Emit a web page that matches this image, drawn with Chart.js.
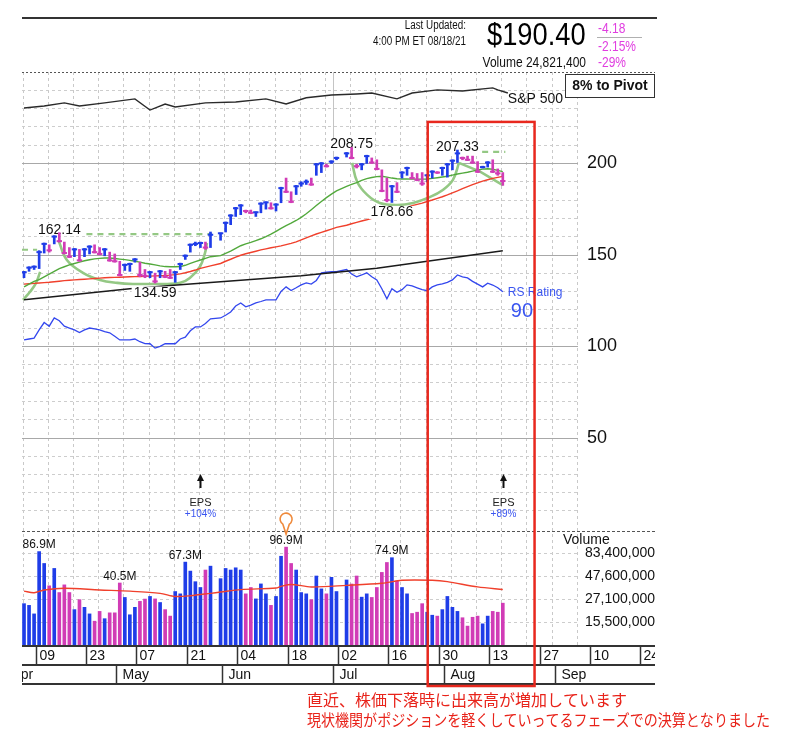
<!DOCTYPE html>
<html lang="ja">
<head>
<meta charset="utf-8">
<title>Daily chart</title>
<script src="https://cdn.jsdelivr.net/npm/chart.js@4.4.1/dist/chart.umd.min.js"></script>
<style>
html,body{margin:0;padding:0;background:#fff;}
canvas{display:block;}
</style>
</head>
<body>
<canvas id="chart" width="800" height="744"></canvas>
<script>
// ================= DATA (one slot per weekday, starting Wed 2021-04-07; null = market holiday) =================
const prevClose0 = 138.0;
const high = [141,143.5,144,152.3,156.5,155.5,160.5,162.14,157,154,
  153.5,153,153.5,155,155.5,154,153.5,151.5,150.5,146.5,
  145,145.5,148,146,142,141,140,141.5,141,142,
  141,145.5,150,156,157,157,157,162.5,null,162,
  168,172,176,177.5,174.5,174.5,173.5,178.5,179,178.5,
  178,187,192,184.5,188,190,191,192,200,200.5,
  199.5,201.5,203.5,null,206,208.75,199.5,200,204.5,203,
  202,196.5,192,188,189.5,195.5,198,195,194.5,195,
  194,196,195.5,198,200,202,207.33,203.5,204,204,
  201,198.5,201,202,197,195];
const low = [137.5,141,142,142.5,151,151.5,156,157,150.5,148.5,
  149,146.5,149,150.5,151,150,149.5,146.5,146,138.5,
  141.5,141,146,138,137.5,137.5,134.59,137.5,137.5,137,
  135,142,147.5,151.5,155,154,153,154,null,158,
  162.5,166.5,171,172,173,172.5,171,173,175,175,
  174,178.5,184,178.5,183,187.5,188.5,188,193.5,195,
  198,200,202,null,203.5,202.5,197.5,196.5,200,200,
  196.5,184.5,179,178.66,184,192,193.5,191.5,190.5,188,
  190,192,194.5,193.5,192.5,196.5,200.5,202,201.5,200,
  195,197.5,198,195,193.5,188];
const close = [140.5,143,143.5,151.5,156,152.5,160,157.5,151,149,
  153,147,153,154.5,151.5,150.5,153,147,146.5,139,
  144.5,145,147.5,139,138.5,140.5,135.5,141,138,137.5,
  140.5,145,149.5,155.5,156,156.5,154,161,null,161.8,
  167.5,171.5,175.5,177,174,173,173.3,178,178.7,175.5,
  177.5,186.5,184.5,179,187.5,189,190,188.5,199.5,200,
  198.5,201,203,null,205.5,203,198.5,199.5,204,200.5,
  197,185,180,187.5,184.5,195,197.5,192,191,189,
  193.5,195.5,195,197.5,199.5,201.5,205.5,203,202,200.5,
  195.5,198,200.5,195.5,194.58,190.40];
const volumeM = [24.5,23.5,19.1,86.9,65.1,37.8,57.7,32.1,38.7,32.1,
  21.2,27,22.4,19.1,16,20.3,17,19.6,19.6,40.5,
  28.5,18.7,22.4,25.9,27.4,29.2,27.5,25.2,21.2,18.1,
  32.9,31.1,67.3,54.1,41.8,36.3,55.5,61,null,45,
  57.7,55.5,58.6,55.5,31.1,36.3,27.5,39.6,31.1,23.5,
  29.2,77.6,96.9,65.1,55.5,32.1,31.1,27,48,35.1,
  31.1,46.5,32.9,null,43.6,39.5,48,28.7,31.1,28.5,
  36.3,52.4,66.7,74.9,42.5,36.3,31.1,19.3,19.9,24.5,
  19.9,18.5,18.1,21.2,29.2,22.4,20.3,17.4,14.2,17.6,
  18.1,15,18.1,20.3,19.9,24.8];
const maShort = [132.5,134,135.5,136.5,138,139.5,141,142.5,143.5,144.5,
  145.3,146,146.8,147.3,147.8,148.1,148.3,148.3,148,147.7,
  147.4,147,146.5,146,145.4,145,144.5,144,143.6,143.5,
  143.5,143.6,144.3,145.3,146.3,147.2,148.1,149,null,149.6,
  150.8,152,153.5,155,156,156.8,157.8,158.8,160,161.3,
  162.8,164.5,166,167.3,168.8,170.5,172.5,174.7,177,179.2,
  181.3,183.2,185,null,187.5,188.5,189.5,190.7,191.7,192.3,
  192.8,193,192.5,192,191.6,191.5,191.5,191.4,191.4,191.4,
  191.5,191.8,192.2,192.6,193,193.6,194.2,194.7,195.2,195.8,
  196.4,196.9,197.1,196.8,196.2,195.5];
const maMid = [134,134.2,134.4,134.6,134.8,135,135.3,135.6,135.9,136.1,
  136.3,136.5,136.7,136.9,137.1,137.3,137.5,137.6,137.7,137.8,
  137.9,138,138.1,138.2,138.3,138.4,138.5,138.6,138.7,138.9,
  139.2,139.6,140.2,140.9,141.7,142.6,143.3,144,null,145.3,
  146.5,147.6,148.8,149.8,150.6,151.3,152,152.7,153.3,153.9,
  154.4,154.9,155.6,156.3,157.1,158.2,159.3,160.4,161.4,162.3,
  163.2,164.1,165,null,166.2,167,167.8,168.5,169.2,170,
  170.8,171.7,172.6,173.5,174.3,175.1,176,176.9,177.6,178.3,
  179.2,180,180.9,181.8,182.8,183.9,185,186.2,187.3,188.4,
  189.4,190.3,191.1,191.8,192.4,192.9];
const rsLine = [103.5,104,104.5,109,113,111,115.5,114,111,110,
  109,107.5,109,110,109.5,109,108,107.4,105.5,103.5,
  103.5,103.5,104,102.5,101.5,101.4,99,100,101.4,101.4,
  101.4,104,105,108.5,110.6,110.6,112.5,115,null,115.5,
  117,118.8,122,123.7,121.6,122.5,123.7,124.5,125.4,125.4,
  125.4,130,132.5,130.5,132,133.6,134.7,134,136,140.2,
  140.5,140.8,140.8,null,142,139.5,138,139,140.2,138,
  136.3,131.5,126,131.5,129.5,131,133.6,133,132,131,
  130.4,132.5,133.6,134.2,135,136.3,139,138,137.4,135.5,
  134,132.5,134.5,133.5,132,129.8];
const maLongSlots = [0,21,31,55,70,95];
const maLongVals  = [125.5,131.5,133.6,138.6,142.7,152.2];
const spxSlots = [0,4,8,11,16,22,25,28,30,36,42,48,52,56,61,66,69,74,77,82,87,93,94,96];
const spxVals  = [230.3,231.4,233.1,231.4,233.1,235.3,229.2,232.5,230.9,233.1,233.6,235.3,232.5,235.9,237.4,238,238.5,235.3,238.5,240.2,239.6,241.3,240.2,238.5];
const volAvgSlots = [0,2,4,8,15,21,27,30,33,37,39,43,50,51,53,57,64,71,75,81,84,90,95];
const volAvgM     = [33.2,32,34.2,35.6,34.2,33.2,31.5,29.2,29.7,31.5,32.5,34.5,35.8,37.3,39.1,36.8,38.2,40.2,43.3,43.3,41.9,36.8,34.6];
// base-pattern overlays
const baseASlots = [-0.2,1.2,2.4,3.2];
const baseAVals  = [125.4,129.8,134.7,140.7];
const baseBSlots = [6.9,8.5,11.7,15.1,18.5,21.6,25,28.4,31,32.9,34.9,35.9,36.3];
const baseBVals  = [157.5,147.2,140.2,136.3,134.7,134.1,134.1,134.1,134.7,137.4,143.5,151,156.5];
const baseCSlots = [65.1,66.1,68.1,70.6,74,77.2,80.6,83.1,85.1,86.3];
const baseCVals  = [200.3,190,182.8,178.4,177.3,178.4,181.7,185.5,191,200.3];
const handleSlots = [86.3,90.5,95];
const handleVals  = [200.3,195.5,188.2];
const pivotLines = [[-0.4,2.6,152.8],[10.2,37.3,161.3],[90.9,95.5,206.3]];
// annotations
const highLabelSlots = [7,65,86];
const lowLabelSlots  = [26,73];
const volLabelSlots  = [3,19,32,52,73];
const pinSlot = 52;
const epsSlots  = [35,95];
const epsLabels = ['+104%','+89%'];
// axes
const priceMajor = [50,100,150,200];
const volAxisTicks = [15500000,27100000,47600000,83400000];
const tickSlots  = [2,12,22,32,42,52,62,72,82,92,102,112,122];
const tickLabels = ['09','23','07','21','04','18','02','16','30','13','27','10','24'];
const monthSlots  = [-4,18,39,61,83,105];
const monthLabels = ['Apr','May','Jun','Jul','Aug','Sep'];
const quarterSlot = 61;
const header = {updated1:'Last Updated:', updated2:'4:00 PM ET 08/18/21', price:'$190.40',
  chg:'-4.18', pct:'-2.15%', volume:'Volume 24,821,400', volPct:'-29%', pivot:'8% to Pivot'};
const note1 = '直近、株価下落時に出来高が増加しています';
const note2 = '現状機関がポジションを軽くしていってるフェーズでの決算となりました';

// ================= BUILD =================
const SANS = "'Liberation Sans', Arial, Helvetica, sans-serif";
const JP = "'Noto Sans CJK JP', 'Noto Sans CJK SC', sans-serif";
Chart.defaults.font.family = SANS;
const UP = '#1f3de8', DOWN = '#d13cb6';

const barData = [], barColors = [], tickData = [], tickColors = [], volData = [], volColors = [];
let prev = prevClose0;
for (let i = 0; i < close.length; i++) {
  if (close[i] == null) continue;
  const c = close[i] >= prev ? UP : DOWN;
  prev = close[i];
  barData.push({x: i, y: [low[i], high[i]]}); barColors.push(c);
  tickData.push({x: i, y: close[i]}); tickColors.push(c);
  volData.push({x: i, y: volumeM[i] * 1e6}); volColors.push(c);
}
const pts = (xs, ys, k = 1) => xs.map((x, i) => ({x, y: ys[i] == null ? null : ys[i] * k})).filter(p => p.y != null);
const slotIdx = close.map((_, i) => i);
const line = (label, data, color, width, order, extra = {}) => Object.assign({
  type: 'line', label, data, borderColor: color, borderWidth: width, pointRadius: 0,
  fill: false, tension: 0, xAxisID: 'x', yAxisID: 'y', order}, extra);

const PALE = '#94c884';
const datasets = [
  {type: 'bar', label: 'Price', data: barData, backgroundColor: barColors, borderWidth: 0,
   barThickness: 2, grouped: false, xAxisID: 'x', yAxisID: 'y', order: 2},
  {type: 'scatter', label: 'Close', data: tickData, pointStyle: 'line', pointRadius: 2.7,
   pointBorderWidth: 2, pointBorderColor: tickColors, pointBackgroundColor: tickColors,
   showLine: false, xAxisID: 'x', yAxisID: 'y', order: 1},
  {type: 'bar', label: 'Volume', data: volData, backgroundColor: volColors, borderWidth: 0,
   barThickness: 3, grouped: false, xAxisID: 'x', yAxisID: 'yv', order: 6},
  line('Vol avg', pts(volAvgSlots, volAvgM, 1e6), '#f0402c', 1.4, 0, {yAxisID: 'yv', tension: 0.3}),
  line('MA short', pts(slotIdx, maShort), '#52a93c', 1.4, 8),
  line('MA mid', pts(slotIdx, maMid), '#f0402c', 1.4, 8),
  line('MA long', pts(maLongSlots, maLongVals), '#1a1a1a', 1.5, 9),
  line('RS', pts(slotIdx, rsLine), '#3347ee', 1.3, 9),
  line('S&P 500', pts(spxSlots, spxVals), '#2a2a2a', 1.4, 9),
  line('Base A', pts(baseASlots, baseAVals), PALE, 2.6, 10, {tension: 0.4}),
  line('Base B', pts(baseBSlots, baseBVals), PALE, 2.6, 10, {tension: 0.4}),
  line('Base C', pts(baseCSlots, baseCVals), PALE, 2.6, 10, {tension: 0.4}),
  line('Handle', pts(handleSlots, handleVals), PALE, 2.6, 10),
];
pivotLines.forEach((p, k) => datasets.push(line('Pivot ' + k, [{x: p[0], y: p[2]}, {x: p[1], y: p[2]}], PALE, 2.2, 10, {borderDash: [6, 5]})));
const PRICE_BAR_INDEX = 0;

// ================= DRAW HELPERS =================
function txt(ctx, s, x, y, font, color, align = 'left', sx = 1, base = 'middle') {
  ctx.save(); ctx.font = font; ctx.fillStyle = color; ctx.textAlign = align; ctx.textBaseline = base;
  ctx.translate(x, y); ctx.scale(sx, 1); ctx.fillText(s, 0, 0); ctx.restore();
}
function seg(ctx, x1, y1, x2, y2) { ctx.beginPath(); ctx.moveTo(x1, y1); ctx.lineTo(x2, y2); ctx.stroke(); }
function labelBox(ctx, s, x, y) {
  ctx.font = '14px ' + SANS;
  const w = ctx.measureText(s).width;
  ctx.fillStyle = '#fff'; ctx.fillRect(x - w / 2 - 2, y - 6.5, w + 4, 13);
  txt(ctx, s, x, y, '14px ' + SANS, '#111', 'center');
}

const overlay = {
  id: 'overlay',
  beforeDatasetsDraw(chart) {
    const {ctx, chartArea: ca, scales: {x: xs, y: ys}} = chart;
    ctx.save(); ctx.lineWidth = 1;
    ctx.strokeStyle = '#a8a8a8';
    priceMajor.forEach(v => { const y = Math.round(ys.getPixelForValue(v)) + 0.5; seg(ctx, ca.left, y, ca.right, y); });
    ctx.strokeStyle = '#c4c4c4';
    const qx = Math.round(xs.getPixelForValue(quarterSlot + 0.3)) + 0.5;
    seg(ctx, qx, ys.top, qx, ys.bottom);
    ctx.restore();
  },
  beforeDatasetDraw(chart, args) {
    if (args.index !== PRICE_BAR_INDEX) return;
    const {ctx, scales: {x: xs, y: ys}} = chart;
    ctx.save();
    highLabelSlots.forEach(s => labelBox(ctx, high[s].toFixed(2), xs.getPixelForValue(s), ys.getPixelForValue(high[s]) - 3));
    lowLabelSlots.forEach(s => labelBox(ctx, low[s].toFixed(2), xs.getPixelForValue(s), ys.getPixelForValue(low[s]) + 10));
    ctx.restore();
  },
  afterDraw(chart) {
    const {ctx, chartArea: ca, scales: {x: xs, y: ys, yv}} = chart;
    const L = 22, R = 655;
    ctx.save();
    // frame lines
    ctx.strokeStyle = '#333'; ctx.lineWidth = 2; seg(ctx, L, 18, 657, 18);
    ctx.lineWidth = 1; ctx.strokeStyle = '#555'; ctx.setLineDash([2, 2]);
    seg(ctx, L, ca.top + 0.5, R, ca.top + 0.5);
    ctx.setLineDash([3, 2]); seg(ctx, L, Math.round(ys.bottom) + 0.5, R, Math.round(ys.bottom) + 0.5);
    ctx.setLineDash([]);
    // header
    const nar = (px) => px + 'px ' + SANS;
    txt(ctx, header.updated1, 466, 26, nar(12), '#111', 'right', 0.82);
    txt(ctx, header.updated2, 466, 42, nar(12), '#111', 'right', 0.82);
    txt(ctx, header.price, 487, 36, nar(31), '#000', 'left', 0.88);
    txt(ctx, header.volume, 586, 63, nar(15), '#111', 'right', 0.8);
    const MAG = '#e03ee0';
    txt(ctx, header.chg, 598, 29, nar(15), MAG, 'left', 0.8);
    txt(ctx, header.pct, 598, 47, nar(15), MAG, 'left', 0.8);
    txt(ctx, header.volPct, 598, 63, nar(15), MAG, 'left', 0.8);
    ctx.strokeStyle = '#b0b0b0'; ctx.lineWidth = 1; seg(ctx, 597, 37.5, 642, 37.5);
    // pivot box
    ctx.fillStyle = '#fff'; ctx.fillRect(565, 74, 90, 24);
    ctx.strokeStyle = '#333'; ctx.strokeRect(565.5, 74.5, 89, 23);
    txt(ctx, header.pivot, 610, 86.5, 'bold 14px ' + SANS, '#111', 'center');
    // right-side labels
    const lastX = xs.getPixelForValue(close.length - 1);
    txt(ctx, 'S&P 500', lastX + 5, 99, nar(14), '#111', 'left');
    txt(ctx, 'RS Rating', lastX + 5, 293, nar(12), '#3a55f0', 'left');
    txt(ctx, '90', lastX + 8, 311, nar(20), '#3a55f0', 'left');
    txt(ctx, 'Volume', 563, 540, nar(14), '#111', 'left');
    // volume labels + pin
    volLabelSlots.forEach(s => {
      const x = xs.getPixelForValue(s), y = yv.getPixelForValue(volumeM[s] * 1e6) - 7;
      txt(ctx, volumeM[s].toFixed(1) + 'M', x, y, nar(13), '#111', 'center', 0.92);
      if (s === pinSlot) {
        const cy = y - 21, r = 6;
        ctx.beginPath(); ctx.arc(x, cy, r, 0.68 * Math.PI, 2.32 * Math.PI); ctx.lineTo(x, cy + 15); ctx.closePath();
        ctx.fillStyle = '#fff'; ctx.fill(); ctx.strokeStyle = '#ef8a3c'; ctx.lineWidth = 1.6; ctx.stroke();
      }
    });
    // EPS markers
    epsSlots.forEach((s, k) => {
      const x = Math.round(xs.getPixelForValue(s)) + 0.5;
      ctx.fillStyle = '#111'; ctx.strokeStyle = '#111'; ctx.lineWidth = 2;
      seg(ctx, x, 479, x, 488);
      ctx.beginPath(); ctx.moveTo(x, 474); ctx.lineTo(x - 3.5, 481); ctx.lineTo(x + 3.5, 481); ctx.closePath(); ctx.fill();
      txt(ctx, 'EPS', x, 503, nar(11), '#222', 'center');
      txt(ctx, epsLabels[k], x, 514, nar(10), '#3a55f0', 'center');
    });
    // date rows
    ctx.save();
    ctx.beginPath(); ctx.rect(L, ca.bottom - 2, R - L, 45); ctx.clip();
    ctx.strokeStyle = '#333'; ctx.lineWidth = 2;
    const r0 = ca.bottom, r1 = r0 + 19, r2 = r1 + 19;
    seg(ctx, L, r0, R, r0); seg(ctx, L, r1, R, r1); seg(ctx, L, r2, R, r2);
    ctx.lineWidth = 1.5;
    tickSlots.forEach((s, k) => {
      const x = Math.round(xs.getPixelForValue(s + 0.3)) + 0.5;
      seg(ctx, x, r0, x, r1);
      txt(ctx, tickLabels[k], x + 3, (r0 + r1) / 2 + 1, nar(14), '#111', 'left');
    });
    monthSlots.forEach((s, k) => {
      const x = Math.round(xs.getPixelForValue(s + 0.3)) + 0.5;
      seg(ctx, x, r1, x, r2);
      txt(ctx, monthLabels[k], x + 6, (r1 + r2) / 2 + 1, nar(14), '#111', 'left');
    });
    ctx.restore();
    // red highlight box
    const bx1 = xs.getPixelForValue(80.1), bx2 = xs.getPixelForValue(101.3);
    const by1 = ys.getPixelForValue(222.7), by2 = ca.bottom + 40;
    ctx.strokeStyle = '#e8281e'; ctx.lineWidth = 2.5; ctx.strokeRect(bx1, by1, bx2 - bx1, by2 - by1);
    // note
    ctx.font = '16px ' + JP; ctx.fillStyle = '#e8231a'; ctx.textBaseline = 'middle'; ctx.textAlign = 'left';
    ctx.fillText(note1, 307, 700);
    ctx.fillText(note2, 307, 720, 463);
    ctx.restore();
  }
};

const weekGrid = [];
for (let s = 2.3; s < 110; s += 5) weekGrid.push(s);

new Chart(document.getElementById('chart'), {
  type: 'bar',
  data: {datasets},
  options: {
    responsive: false, animation: false, events: [],
    layout: {padding: {left: 22, right: 145, top: 72, bottom: 98}},
    plugins: {legend: {display: false}, tooltip: {enabled: false}},
    scales: {
      x: {type: 'linear', min: -0.4, max: 109.92, offset: false,
        afterBuildTicks: s => { s.ticks = weekGrid.map(v => ({value: v})); },
        afterFit: s => { s.height = 0; },
        ticks: {display: false},
        grid: {color: '#c9c9c9', lineWidth: 1, drawTicks: false},
        border: {display: false, dash: [3, 3]}},
      y: {type: 'linear', position: 'right', stack: 'main', stackWeight: 459, min: -1, max: 250,
        afterBuildTicks: s => { const t = []; for (let v = 10; v <= 240; v += 10) t.push({value: v}); s.ticks = t; },
        afterFit: s => { s.width = 77; },
        ticks: {autoSkip: false, padding: 9, color: '#111', font: {size: 18},
          callback: v => (priceMajor.includes(v) ? String(v) : '')},
        grid: {drawTicks: false, color: c => (c.tick && priceMajor.includes(c.tick.value) ? 'rgba(0,0,0,0)' : '#cdcdcd')},
        border: {display: false, dash: [3, 3]}},
      yv: {type: 'logarithmic', position: 'right', stack: 'main', stackWeight: 115, min: 8.75e6, max: 1.434e8,
        afterBuildTicks: s => { s.ticks = volAxisTicks.map(v => ({value: v})); },
        afterFit: s => { s.width = 77; },
        ticks: {autoSkip: false, padding: 1, crossAlign: 'far', color: '#111', font: {size: 14},
          callback: v => Number(v).toLocaleString('en-US')},
        grid: {drawTicks: false, color: '#cdcdcd'},
        border: {display: false, dash: [3, 3]}}
    }
  },
  plugins: [overlay]
});
</script>
</body>
</html>
